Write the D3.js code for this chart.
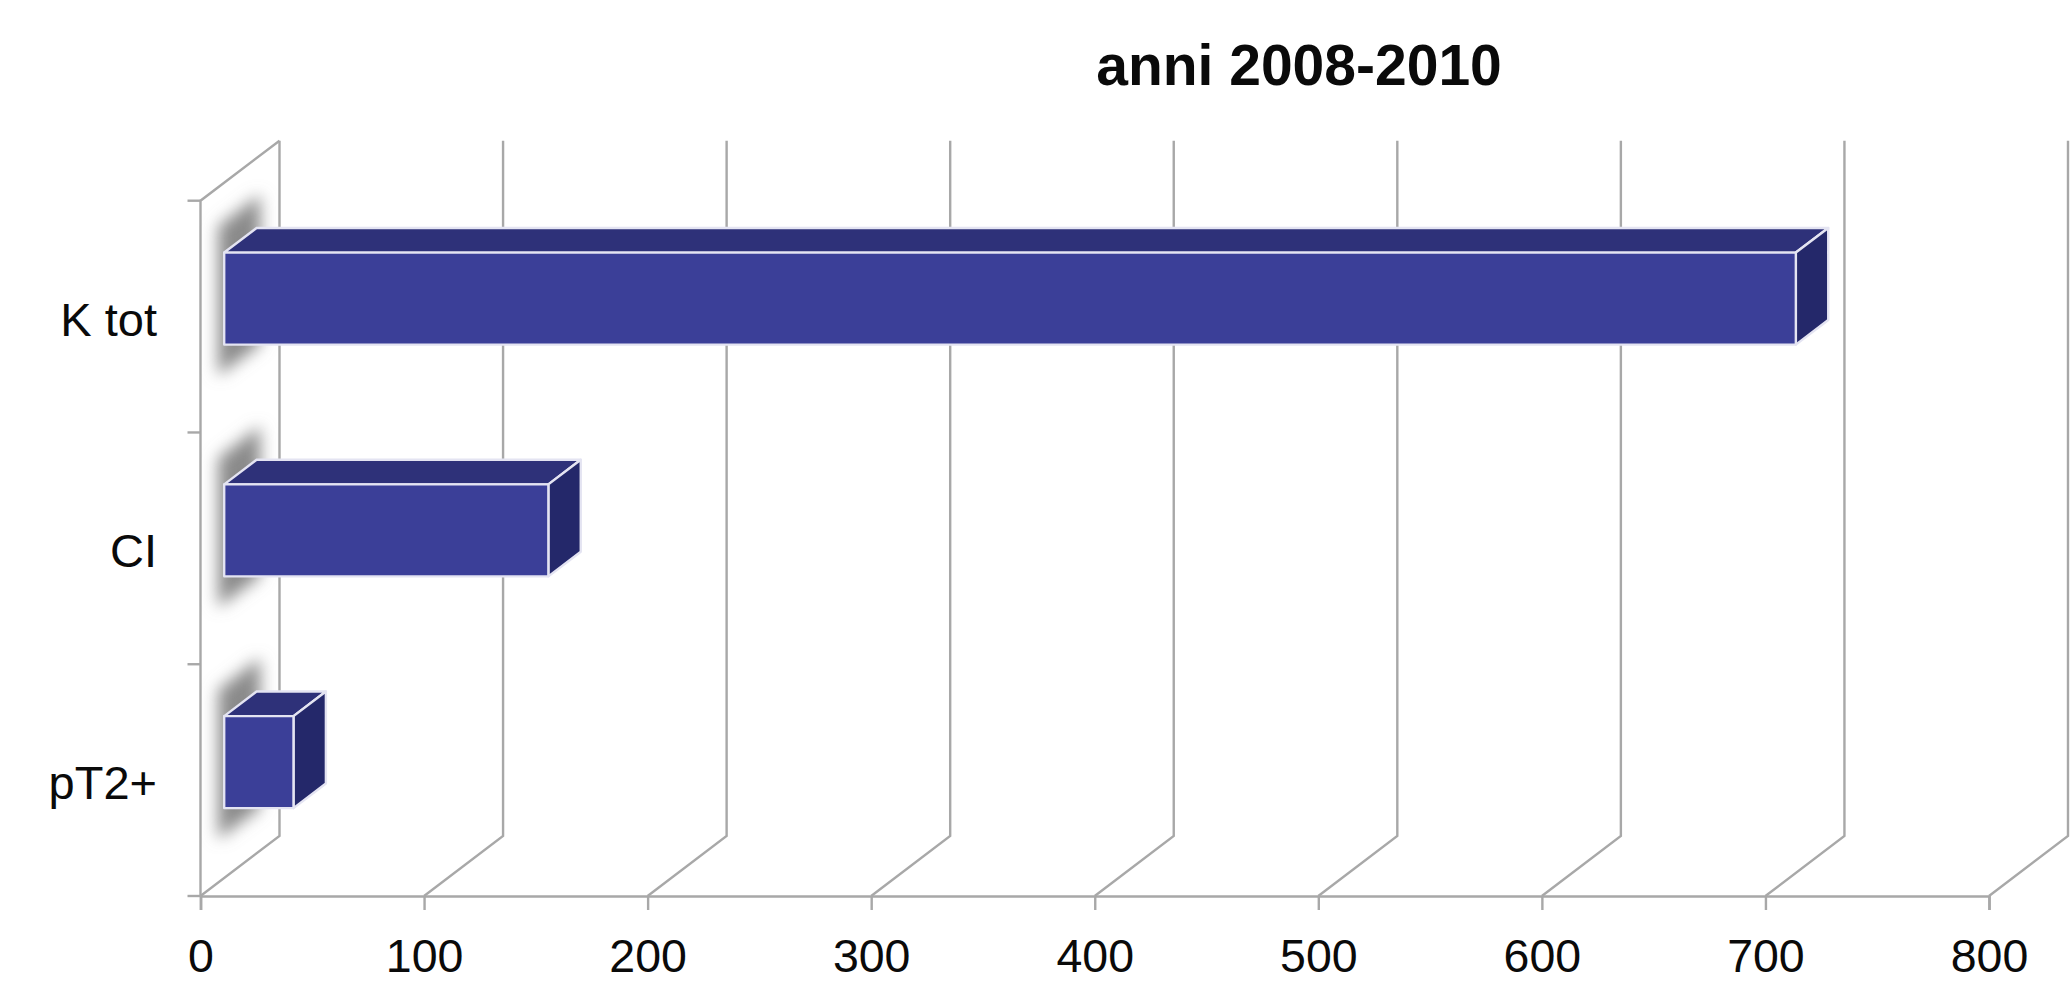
<!DOCTYPE html>
<html>
<head>
<meta charset="utf-8">
<script src="https://cdnjs.cloudflare.com/ajax/libs/d3/7.8.5/d3.min.js"></script>
<style>
html,body{margin:0;padding:0;background:#fff;}
svg{display:block;}
text{font-family:"Liberation Sans",Arial,sans-serif;fill:#0a0a0a;}
</style>
</head>
<body>
<svg id="chart" width="2070" height="984"></svg>
<script>
const titleText = "anni 2008-2010";
const categories = ["K tot", "CI", "pT2+"];
const values = [703, 145, 31];
const tickValues = [0, 100, 200, 300, 400, 500, 600, 700, 800];

const W = 2070, H = 984;
const plot = {left: 200.5, right: 1989, top: 200.7, bottom: 896};
const wall = {dx: 79, dy: 60};        // offset from front plane to back wall
const gapDepth = 0.3, barDepth = 0.41; // fractions of the wall depth
const barBandShare = 0.397;

const gridColor = "#a8a8a8", faceColor = "#3b3f98", topColor = "#2e3179", sideColor = "#24286a", edgeColor = "#e4e4f2";

const svg = d3.select("#chart").attr("viewBox", `0 0 ${W} ${H}`);
const defs = svg.append("defs");
defs.append("filter").attr("id", "soft")
  .attr("x", "-80%").attr("y", "-30%").attr("width", "260%").attr("height", "160%")
  .append("feGaussianBlur").attr("stdDeviation", 8);

const x = d3.scaleLinear().domain([0, 800]).range([plot.left, plot.right]);
const y = d3.scaleBand().domain(categories).range([plot.top, plot.bottom]);

// Chart title
svg.append("text").attr("x", 1299).attr("y", 85).attr("text-anchor", "middle")
  .attr("font-size", 57).attr("font-weight", 700).text(titleText);

// Back wall gridlines with their floor diagonals
const grid = svg.append("g").attr("fill", "none").attr("stroke", gridColor).attr("stroke-width", 2.4);
grid.selectAll("path").data(tickValues).join("path")
  .attr("d", v => {
    const fx = x(v), bx = fx + wall.dx;
    return `M${fx},${plot.bottom}L${bx},${plot.bottom - wall.dy}L${bx},${plot.top - wall.dy}`;
  });
// Left wall: front edge and top diagonal
grid.append("path").attr("d",
  `M${plot.left},${plot.bottom}L${plot.left},${plot.top}L${plot.left + wall.dx},${plot.top - wall.dy}`);

// Bottom axis
const xAxis = d3.axisBottom(x).tickValues(tickValues).tickSize(14).tickPadding(29).tickFormat(d3.format("d"));
const gx = svg.append("g").attr("transform", `translate(0,${plot.bottom})`).call(xAxis);
gx.select(".domain").attr("stroke", gridColor).attr("stroke-width", 2.6);
gx.selectAll(".tick line").attr("stroke", gridColor).attr("stroke-width", 2.4);
gx.selectAll(".tick text").attr("font-size", 46.5).attr("fill", "#0a0a0a")
  .attr("font-family", '"Liberation Sans",Arial,sans-serif').attr("dy", "0.71em");

// Category separators on the left axis
const sepPositions = categories.map(c => y(c)).concat(plot.bottom);
svg.append("g").selectAll("line").data(sepPositions).join("line")
  .attr("x1", plot.left - 13).attr("x2", plot.left).attr("y1", d => d).attr("y2", d => d)
  .attr("stroke", gridColor).attr("stroke-width", 2.4);

// Category labels
svg.append("g").selectAll("text").data(categories).join("text")
  .attr("x", 157).attr("y", c => y(c) + y.bandwidth() / 2 + 19)
  .attr("text-anchor", "end").attr("font-size", 47).text(c => c);

// 3D bars: shadow on the wall, then top, side and front faces
const rows = categories.map((c, i) => {
  const x0 = x(0) + wall.dx * gapDepth;
  const x1 = x(values[i]) + wall.dx * gapDepth;
  const h = y.bandwidth() * barBandShare;
  const yT = y(c) + y.bandwidth() / 2 - wall.dy * gapDepth - h / 2;
  return {x0, x1, yT, yB: yT + h, dx: wall.dx * barDepth, dy: wall.dy * barDepth};
});

const bars = svg.append("g");
bars.selectAll("path.shadow").data(rows).join("path").attr("class", "shadow")
  .attr("d", r => `M${r.x0 - 6},${r.yT - 26}L${r.x0 + 36},${r.yT - 58}L${r.x0 + 36},${r.yB}L${r.x0 - 6},${r.yB + 31}Z`)
  .attr("fill", "#8a8a8a").attr("filter", "url(#soft)");

const bar = bars.selectAll("g.bar").data(rows).join("g").attr("class", "bar")
  .attr("stroke", edgeColor).attr("stroke-width", 2.4).attr("stroke-linejoin", "round");
bar.append("path").attr("fill", topColor)
  .attr("d", r => `M${r.x0},${r.yT}L${r.x0 + r.dx},${r.yT - r.dy}L${r.x1 + r.dx},${r.yT - r.dy}L${r.x1},${r.yT}Z`);
bar.append("path").attr("fill", sideColor)
  .attr("d", r => `M${r.x1},${r.yT}L${r.x1 + r.dx},${r.yT - r.dy}L${r.x1 + r.dx},${r.yB - r.dy}L${r.x1},${r.yB}Z`);
bar.append("rect").attr("fill", faceColor)
  .attr("x", r => r.x0).attr("y", r => r.yT)
  .attr("width", r => r.x1 - r.x0).attr("height", r => r.yB - r.yT);
</script>
</body>
</html>
